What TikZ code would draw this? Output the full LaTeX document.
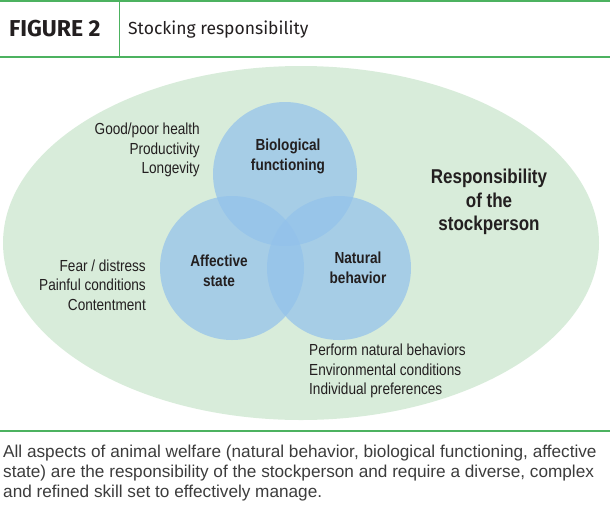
\documentclass[tikz,border=0pt]{standalone}
\usepackage{fontspec}
\setmainfont{Liberation Sans}
\newfontfamily\narrowfont[FakeStretch=0.85]{Liberation Sans}
\newfontfamily\headfont{Fira Sans}
\definecolor{rulegreen}{RGB}{76,178,96}
\definecolor{ovalgreen}{RGB}{216,236,218}
\definecolor{circblue}{RGB}{147,194,235}
\definecolor{inkgray}{RGB}{35,31,32}
\definecolor{capgray}{RGB}{60,60,60}
\tikzset{
  circ/.style={fill=circblue, fill opacity=0.72, draw=none},
  listtext/.style={font=\narrowfont\fontsize{16}{19.5}\selectfont, text=inkgray, inner sep=0pt},
  circtext/.style={font=\narrowfont\bfseries\fontsize{16}{20}\selectfont, text=inkgray, align=center, inner sep=0pt},
}
\begin{document}
\begin{tikzpicture}[x=1pt, y=-1pt]
    \useasboundingbox (0,0) rectangle (610,512);

    % header
    \draw[rulegreen, line width=2pt] (0,1) -- (610,1);
    \draw[rulegreen, line width=2pt] (0,57) -- (610,57);
    \draw[rulegreen, line width=0.8pt] (119,2) -- (119,56);
    \node[anchor=west, inner sep=0pt, text=inkgray, font=\headfont\bfseries\fontsize{23}{26}\selectfont] (figno) at (9,29) {FIGURE 2};
    \node[anchor=west, inner sep=0pt, text=inkgray, font=\headfont\fontsize{17.5}{20}\selectfont] (title) at (128,30) {Stocking responsibility};

    % oval and circles
    \fill[ovalgreen] (301,243) ellipse (298 and 177);
    \fill[circ] (285,174) circle (72);
    \fill[circ] (232,268) circle (72);
    \fill[circ] (339,268) circle (72);

    \node[circtext] (bio) at (288,156) {Biological\\functioning};
    \node[circtext] (aff) at (219,271) {Affective\\state};
    \node[circtext] (nat) at (358,268) {Natural\\behavior};
    \node[circtext, font=\narrowfont\bfseries\fontsize{20}{23.5}\selectfont] (resp) at (489,202) {Responsibility\\of the\\stockperson};

    % lists
    \node[listtext, anchor=east, align=right] (biolist) at (200,150) {Good/poor health\\Productivity\\Longevity};
    \node[listtext, anchor=east, align=right] (afflist) at (146,285) {Fear / distress\\Painful conditions\\Contentment};
    \node[listtext, anchor=west, align=left] (natlist) at (309,371) {Perform natural behaviors\\Environmental conditions\\Individual preferences};

    % caption
    \draw[rulegreen, line width=1.5pt] (0,431) -- (610,431);
    \node[anchor=north west, align=left, inner sep=0pt, text=capgray, font=\fontsize{17.2}{20}\selectfont] (caption) at (3,445)
        {All aspects of animal welfare (natural behavior, biological functioning, affective\\
         state) are the responsibility of the stockperson and require a diverse, complex\\
         and refined skill set to effectively manage.};
\end{tikzpicture}
\end{document}
